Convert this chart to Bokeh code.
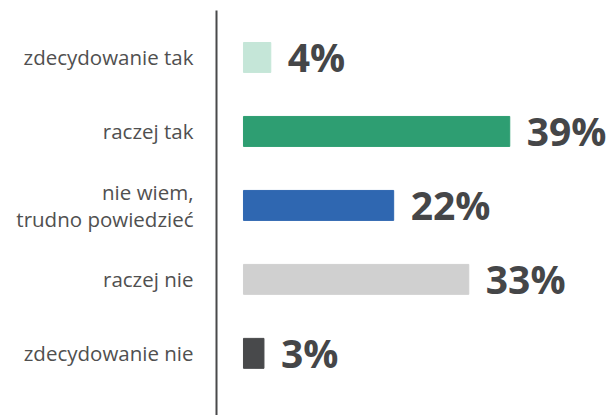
from bokeh.plotting import figure
from bokeh.models import Range1d, FixedTicker, ColumnDataSource
from bokeh.embed import file_html
from bokeh.resources import INLINE
from bokeh.core.properties import value

categories = ["zdecydowanie tak", "raczej tak", "nie wiem,\ntrudno powiedzieć", "raczej nie", "zdecydowanie nie"]
values = [4, 39, 22, 33, 3]
labels = ["4%", "39%", "22%", "33%", "3%"]
colors = ["#c5e6d8", "#2e9e72", "#2f67b1", "#d0d0d0", "#48494b"]

pos = list(range(len(categories)))

src = ColumnDataSource(dict(y=pos, v=values, lab=labels, c=colors, z=[0] * len(values)))

p = figure(width=611, height=415, output_backend="svg", toolbar_location=None,
           x_range=Range1d(-3.95, 53.9), y_range=Range1d(4.84, -0.635),
           min_border_left=216, min_border_right=0, min_border_top=10, min_border_bottom=0,
           x_axis_location=None)
p.outline_line_color = None
p.grid.grid_line_color = None
p.background_fill_color = "white"

p.hbar(y="y", left="z", right="v", height=0.405, color="c", source=src)
p.text(x="v", y="y", text="lab", source=src, x_offset=17, y_offset=-1,
       text_baseline="middle", text_align="left", text_font=value("Open Sans"),
       text_font_style="bold", text_font_size="39px", text_color="#454648")

ax = p.yaxis[0]
ax.ticker = FixedTicker(ticks=pos)
ax.major_label_overrides = {i: c for i, c in zip(pos, categories)}
ax.axis_line_color = "#48494b"
ax.axis_line_width = 2
ax.major_tick_line_color = None
ax.minor_tick_line_color = None
ax.major_tick_out = 0
ax.major_tick_in = 0
ax.major_label_standoff = 23
ax.major_label_text_font = "Open Sans"
ax.major_label_text_font_size = "20.5px"
ax.major_label_text_color = "#505050"
ax.major_label_text_line_height = 0.95

open("out.html", "w").write(file_html(p, INLINE))
